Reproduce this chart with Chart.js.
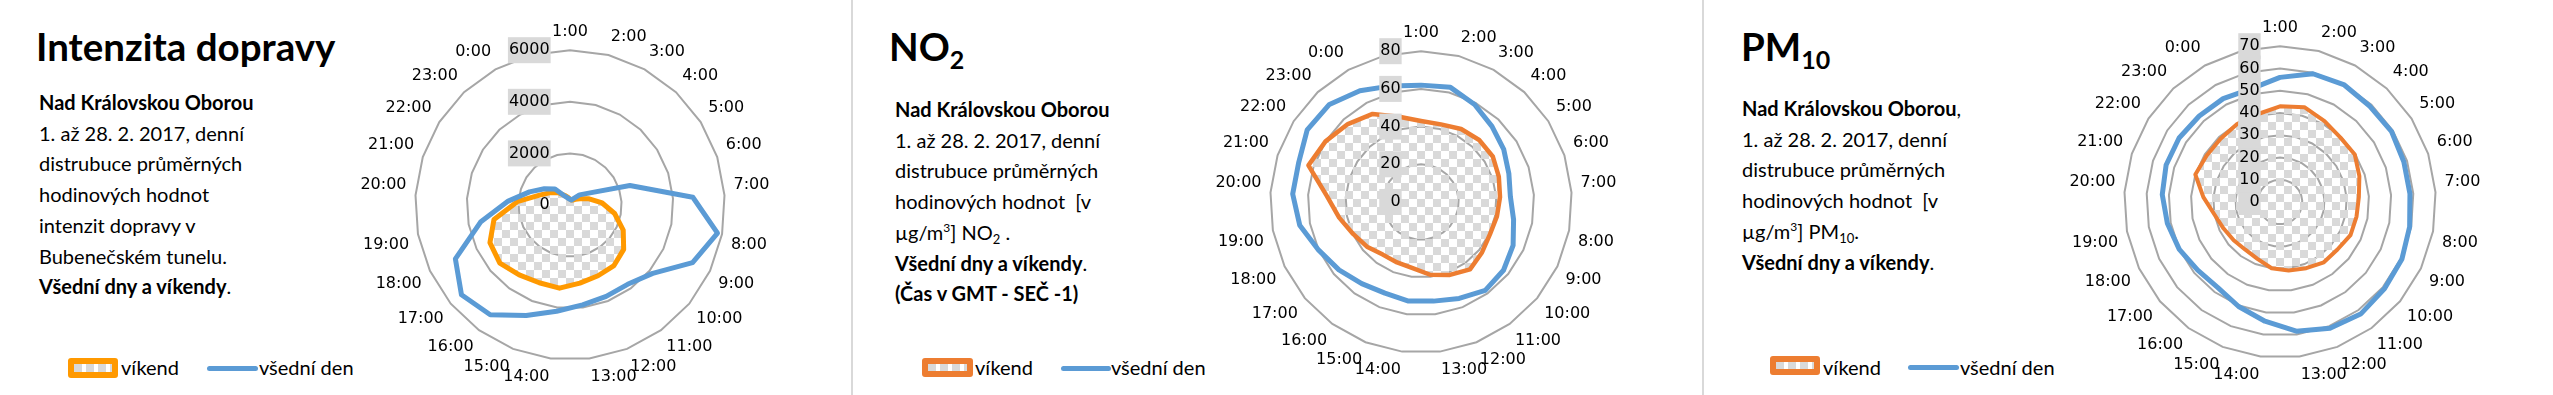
<!DOCTYPE html>
<html lang="cs">
<head>
<meta charset="utf-8">
<script src="https://cdn.jsdelivr.net/npm/chart.js@4.4.1/dist/chart.umd.min.js"></script>
<style>
  html, body { margin: 0; padding: 0; }
  body { width: 2553px; height: 395px; overflow: hidden; background: #fff; position: relative; font-family: Lato, "Open Sans", sans-serif; color: #000; }
  .oddelovac { position: absolute; top: 0; width: 2px; height: 395px; background: #d9d9d9; }
  .nadpis { position: absolute; top: 27px; font-size: 38.5px; font-weight: bold; line-height: 38px; white-space: nowrap; }
  .nadpis .dolni { font-size: 25px; position: relative; top: 8px; }
  .popis { position: absolute; font-size: 20px; line-height: 30.7px; white-space: nowrap; }
  .popis sup { font-size: 12px; vertical-align: 8px; line-height: 0; }
  .popis sub { font-size: 13px; vertical-align: -4px; line-height: 0; }
  .legenda { position: absolute; top: 357px; font-size: 20px; line-height: 20px; white-space: nowrap; }
  .vzorek { position: absolute; box-sizing: border-box; border: 6px solid; border-radius: 3px;
    background: repeating-linear-gradient(90deg, #d9d9d9 0 8px, #fff 8px 12px); }
  .cara { position: absolute; height: 5px; border-radius: 3px; background: #5b9bd5; }
  .text { position: absolute; }
  canvas { position: absolute; }
</style>
</head>
<body>

<div class="oddelovac" style="left:851px"></div>
<div class="oddelovac" style="left:1702px"></div>

<!-- panel 1: doprava -->
<div class="nadpis" style="left:36px">Intenzita dopravy</div>
<div class="popis" style="left:39px; top:87px">
  <b>Nad Královskou Oborou</b><br>
  1. až 28. 2. 2017, denní<br>
  distrubuce průměrných<br>
  hodinových hodnot<br>
  intenzit dopravy v<br>
  Bubenečském tunelu.<br>
  <b>Všední dny a víkendy</b>.
</div>
<div class="legenda" style="left:0">
  <div class="vzorek" style="left:68px; top:1px; width:50px; height:20px; border-color:#ff9900"></div>
  <div class="text" style="left:121px">víkend</div>
  <div class="cara" style="left:207px; top:9px; width:51px"></div>
  <div class="text" style="left:259px">všední den</div>
</div>
<canvas id="grafDoprava" width="520" height="366" style="left:310px; top:22px"></canvas>

<!-- panel 2: NO2 -->
<div class="nadpis" style="left:889px">NO<span class="dolni">2</span></div>
<div class="popis" style="left:895px; top:94px">
  <b>Nad Královskou Oborou</b><br>
  1. až 28. 2. 2017, denní<br>
  distrubuce průměrných<br>
  hodinových hodnot &nbsp;[v<br>
  µg/m<sup>3</sup>] NO<sub>2</sub> .<br>
  <b>Všední dny a víkendy</b>.<br>
  <b>(Čas v GMT - SEČ -1)</b>
</div>
<div class="legenda" style="left:851px">
  <div class="vzorek" style="left:71px; top:1px; width:51px; height:19px; border-color:#ed7d31"></div>
  <div class="text" style="left:124px">víkend</div>
  <div class="cara" style="left:210px; top:9px; width:50px"></div>
  <div class="text" style="left:260px">všední den</div>
</div>
<canvas id="grafNO2" width="520" height="358" style="left:1161px; top:23px"></canvas>

<!-- panel 3: PM10 -->
<div class="nadpis" style="left:1741px">PM<span class="dolni">10</span></div>
<div class="popis" style="left:1742px; top:93px">
  <b>Nad Královskou Oborou</b>,<br>
  1. až 28. 2. 2017, denní<br>
  distrubuce průměrných<br>
  hodinových hodnot &nbsp;[v<br>
  µg/m<sup>3</sup>] PM<sub>10</sub>.<br>
  <b>Všední dny a víkendy</b>.
</div>
<div class="legenda" style="left:1701px">
  <div class="vzorek" style="left:69px; top:-1px; width:50px; height:19px; border-color:#ed7d31"></div>
  <div class="text" style="left:122px">víkend</div>
  <div class="cara" style="left:207px; top:8px; width:51px"></div>
  <div class="text" style="left:259px">všední den</div>
</div>
<canvas id="grafPM10" width="520" height="368" style="left:2020px; top:18px"></canvas>

<script>
// hodiny - posledni kategorie je v grafu bez popisku
const hodiny = ['1:00', '2:00', '3:00', '4:00', '5:00', '6:00', '7:00', '8:00', '9:00', '10:00', '11:00', '12:00',
  '13:00', '14:00', '15:00', '16:00', '17:00', '18:00', '19:00', '20:00', '21:00', '22:00', '23:00', '0:00', ''];

// intenzita dopravy (vozidla za hodinu)
const dopravaVikend = [230, 200, 220, 300, 450, 780, 1250, 1760, 2280, 2700, 2900, 2950, 3050, 3250, 3240, 3350, 3530, 3430, 3000, 2050, 1240, 900, 650, 420, 300];
const dopravaVsedni = [220, 200, 280, 540, 860, 2440, 4770, 5820, 5250, 4160, 3800, 3810, 3900, 4150, 4610, 5260, 5460, 4910, 3530, 2400, 1650, 1180, 850, 380, 270];
const tickyDoprava = [0, 2000, 4000, 6000];

// NO2 (ug/m3)
const no2Vikend = [43, 42.5, 44.2, 45.1, 45.1, 43.4, 42, 41, 40.4, 42, 44.2, 41.6, 38.9, 35.4, 34.5, 34.5, 37.2, 39.8, 44.2, 50, 62.8, 60, 56.7, 53.3, 46.7];
const no2Vsedni = [62, 62.8, 59, 55, 52, 49, 47.5, 50, 54, 56.8, 58, 55, 53, 53, 52, 53.5, 56.5, 60, 65.5, 68.2, 68.2, 71.5, 71, 67.3, 63.6];
const tickyNO2 = [0, 20, 40, 60, 80];

// PM10 (ug/m3)
const pm10Vikend = [43, 44, 41.5, 39.7, 39.8, 37.5, 35.5, 35, 35, 33.5, 33.5, 32, 31, 30, 27.5, 26.5, 27, 28, 30, 34.5, 40, 39, 39, 40, 40.7];
const pm10Vsedni = [56, 59.5, 60, 59, 59.3, 58.5, 58.5, 59.3, 60.5, 61, 62, 61, 58.5, 54, 50.5, 47.5, 48, 50, 51.5, 53, 53.8, 53.7, 53, 53, 52.5];
const tickyPM10 = [0, 10, 20, 30, 40, 50, 60, 70];

const modra = '#5b9bd5';
const sedaMrizka = '#a6a6a6';
const mezera = '\u2007'; // figure space, stejne siroka jako cislice
const sirkaCislice = 16 * 0.6362; // DejaVu Sans 16px

// sachovnice jako vypln vikendu (pruhledna plocha z excelu)
function sachovnice() {
  let c = document.createElement('canvas');
  c.width = 16;
  c.height = 16;
  let g = c.getContext('2d');
  g.fillStyle = '#d9d9d9';
  g.fillRect(0, 0, 8, 8);
  g.fillRect(8, 8, 8, 8);
  return g.createPattern(c, 'repeat');
}

function vytvorGraf(id, vikend, vsedni, ticky, barvaVikend, sirkaVikend, skrytNulu) {
  const platno = document.getElementById(id);
  // vsechny popisky stejne dlouhe, mezery vzadu posunou cislo vlevo od osy
  const cislic = String(ticky[ticky.length - 1]).length;
  const konec = cislic + 4;

  return new Chart(platno, {
    type: 'radar',
    data: {
      labels: hodiny,
      datasets: [{
        label: 'všední den',
        data: vsedni,
        borderColor: modra,
        borderWidth: 5,
        borderJoinStyle: 'round',
        fill: false,
        pointRadius: 0,
        tension: 0
      }, {
        label: 'víkend',
        data: vikend,
        borderColor: barvaVikend,
        borderWidth: sirkaVikend,
        borderJoinStyle: 'round',
        backgroundColor: sachovnice(),
        fill: true,
        pointRadius: 0,
        tension: 0
      }]
    },
    options: {
      responsive: false,
      animation: false,
      devicePixelRatio: 1,
      plugins: {
        legend: { display: false },
        tooltip: { enabled: false }
      },
      scales: {
        r: {
          min: ticky[0],
          max: ticky[ticky.length - 1],
          afterBuildTicks: (scale) => {
            // prvni tick se nekresli, proto je tam nula dvakrat
            scale.ticks = [{value: ticky[0]}].concat(ticky.map(v => ({value: v})));
          },
          angleLines: { display: false },
          grid: {
            circular: false,
            lineWidth: 2,
            color: (ctx) => (ctx.tick && ctx.tick.value === 0) ? 'rgba(0,0,0,0)' : sedaMrizka
          },
          pointLabels: {
            color: '#000',
            padding: -4,
            font: { family: 'DejaVu Sans', size: 16 }
          },
          ticks: {
            z: 1,
            color: '#000',
            font: { family: 'DejaVu Sans', size: 16 },
            backdropColor: '#d9d9d9',
            backdropPadding: { top: 5, bottom: 5, left: 1, right: 1 - konec * sirkaCislice },
            showLabelBackdrop: (ctx) => !(skrytNulu && ctx.tick && ctx.tick.value === 0),
            callback: (hodnota) => {
              let s = String(hodnota);
              return mezera.repeat(cislic - s.length) + s + mezera.repeat(konec);
            }
          }
        }
      }
    }
  });
}

vytvorGraf('grafDoprava', dopravaVikend, dopravaVsedni, tickyDoprava, '#ff9900', 5, true);
vytvorGraf('grafNO2', no2Vikend, no2Vsedni, tickyNO2, '#ed7d31', 4.5, false);
vytvorGraf('grafPM10', pm10Vikend, pm10Vsedni, tickyPM10, '#ed7d31', 4, false);
</script>
</body>
</html>
